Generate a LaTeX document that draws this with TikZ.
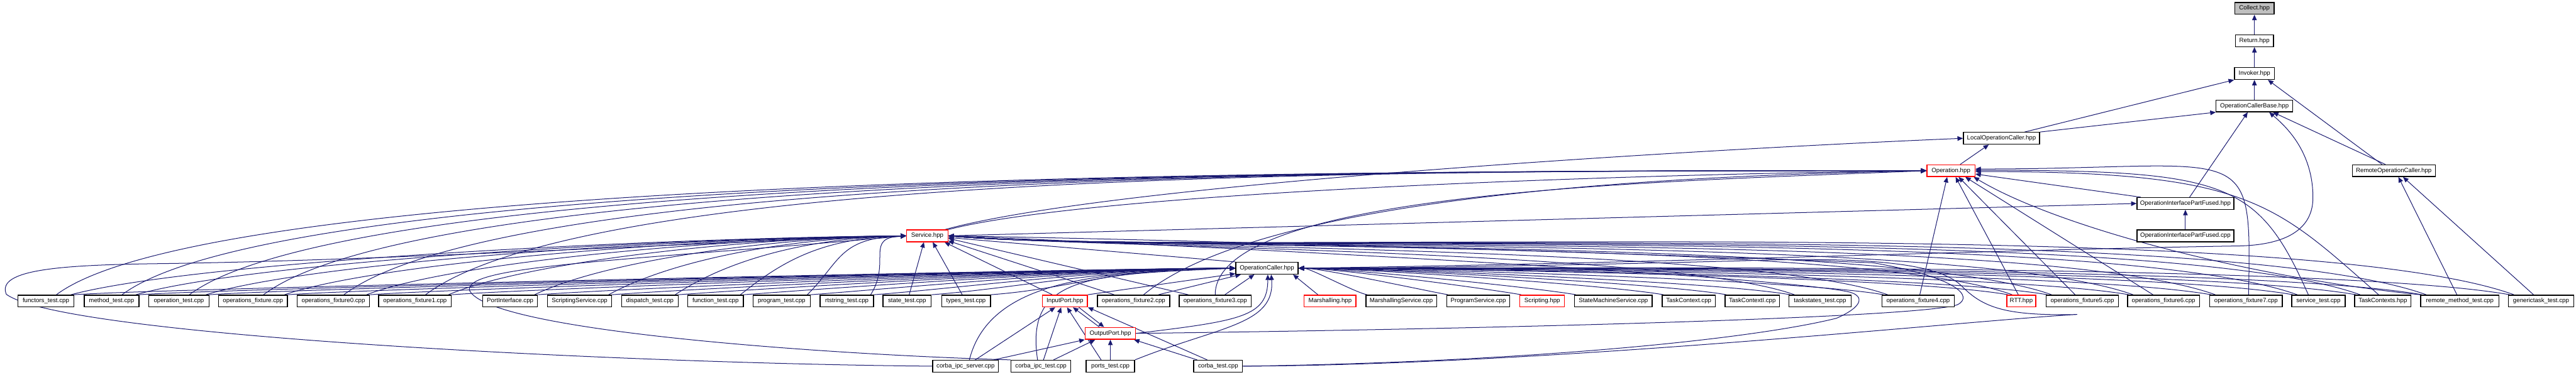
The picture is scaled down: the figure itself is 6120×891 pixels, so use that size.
\documentclass[tikz,border=0pt]{standalone}
\usepackage{fontspec}
\setmainfont{Liberation Sans}
\usetikzlibrary{arrows.meta,calc}
\definecolor{edgec}{HTML}{191970}
\definecolor{grayfill}{HTML}{BFBFBF}
\pgfdeclarelayer{back}
\pgfdeclarelayer{bg}
\pgfsetlayers{back,bg,main}
\tikzset{
  nd/.style={draw=black, line width=2pt, fill=white, minimum height=28pt, inner xsep=3pt, inner ysep=0pt, font=\fontsize{14.5}{16}\selectfont},
  rd/.style={nd, draw=red},
  edg/.style={draw=edgec, line width=1.5pt, -{Triangle[length=13pt,width=11pt]}},
}
\begin{document}
\begin{tikzpicture}[x=1pt,y=1pt]
\begin{pgfonlayer}{back}
\fill[white] (0,0) rectangle (6120,-891);
\end{pgfonlayer}
\useasboundingbox (0,0) rectangle (6120,-891);
% ---------- upper nodes
\node[nd,fill=grayfill,minimum width=93pt] (collect) at (5356,-20) {Collect.hpp};
\node[nd,minimum width=91pt] (ret) at (5356,-97) {Return.hpp};
\node[nd,minimum width=95pt] (invoker) at (5356,-175) {Invoker.hpp};
\node[nd,minimum width=182pt] (ocb) at (5356,-252) {OperationCallerBase.hpp};
\node[nd,minimum width=181pt] (loc) at (4755,-329) {LocalOperationCaller.hpp};
\node[rd,minimum width=114pt] (operation) at (4635,-406) {Operation.hpp};
\node[nd,minimum width=197pt] (remote) at (5687,-406) {RemoteOperationCaller.hpp};
\node[nd,minimum width=230pt] (oipfh) at (5192,-484) {OperationInterfacePartFused.hpp};
\node[nd,minimum width=230pt] (oipfc) at (5192,-561) {OperationInterfacePartFused.cpp};
\node[rd,minimum width=98pt] (service) at (2203,-561) {Service.hpp};
\node[nd,minimum width=148pt] (oc) at (3010,-638) {OperationCaller.hpp};
% ---------- main row
\node[nd,minimum width=133pt] (functors) at (109,-716) {functors\_test.cpp};
\node[nd,minimum width=130pt] (method) at (265,-716) {method\_test.cpp};
\node[nd,minimum width=143pt] (optest) at (425,-716) {operation\_test.cpp};
\node[nd,minimum width=164pt] (opfix) at (601,-716) {operations\_fixture.cpp};
\node[nd,minimum width=172pt] (fx0) at (792,-716) {operations\_fixture0.cpp};
\node[nd,minimum width=173pt] (fx1) at (986,-716) {operations\_fixture1.cpp};
\node[nd,minimum width=130pt] (portif) at (1212,-716) {PortInterface.cpp};
\node[nd,minimum width=152pt] (scriptsvc) at (1377,-716) {ScriptingService.cpp};
\node[nd,minimum width=134pt] (dispatch) at (1544,-716) {dispatch\_test.cpp};
\node[nd,minimum width=132pt] (function) at (1700,-716) {function\_test.cpp};
\node[nd,minimum width=136pt] (program) at (1857,-716) {program\_test.cpp};
\node[nd,minimum width=127pt] (rtstring) at (2012,-716) {rtstring\_test.cpp};
\node[nd,minimum width=115pt] (state) at (2155,-716) {state\_test.cpp};
\node[nd,minimum width=116pt] (types) at (2295,-716) {types\_test.cpp};
\node[rd,minimum width=107pt] (inputport) at (2530,-716) {InputPort.hpp};
\node[nd,minimum width=172pt] (fx2) at (2693,-716) {operations\_fixture2.cpp};
\node[nd,minimum width=171pt] (fx3) at (2887,-716) {operations\_fixture3.cpp};
\node[rd,minimum width=123pt] (marsh) at (3160,-716) {Marshalling.hpp};
\node[nd,minimum width=168pt] (marshsvc) at (3329,-716) {MarshallingService.cpp};
\node[nd,minimum width=150pt] (progsvc) at (3512,-716) {ProgramService.cpp};
\node[rd,minimum width=106pt] (scripting) at (3664,-716) {Scripting.hpp};
\node[nd,minimum width=184pt] (sms) at (3833,-716) {StateMachineService.cpp};
\node[nd,minimum width=126pt] (tc) at (4012,-716) {TaskContext.cpp};
\node[nd,minimum width=129pt] (tci) at (4163,-716) {TaskContextI.cpp};
\node[nd,minimum width=148pt] (taskstates) at (4324,-716) {taskstates\_test.cpp};
\node[nd,minimum width=171pt] (fx4) at (4557,-716) {operations\_fixture4.cpp};
\node[rd,minimum width=69pt] (rtt) at (4802,-716) {RTT.hpp};
\node[nd,minimum width=172pt] (fx5) at (4947,-716) {operations\_fixture5.cpp};
\node[nd,minimum width=171pt] (fx6) at (5140,-716) {operations\_fixture6.cpp};
\node[nd,minimum width=172pt] (fx7) at (5336,-716) {operations\_fixture7.cpp};
\node[nd,minimum width=127pt] (servicetest) at (5508,-716) {service\_test.cpp};
\node[nd,minimum width=134pt] (tcs) at (5661,-716) {TaskContexts.hpp};
\node[nd,minimum width=186pt] (remotetest) at (5844,-716) {remote\_method\_test.cpp};
\node[nd,minimum width=155pt] (generic) at (6037,-716) {generictask\_test.cpp};
% ---------- lower rows
\node[rd,minimum width=120pt] (outputport) at (2638,-793) {OutputPort.hpp};
\node[nd,minimum width=156pt] (cis) at (2294,-871) {corba\_ipc\_server.cpp};
\node[nd,minimum width=142pt] (cit) at (2473,-871) {corba\_ipc\_test.cpp};
\node[nd,minimum width=115pt] (ports) at (2638,-871) {ports\_test.cpp};
\node[nd,minimum width=116pt] (corba) at (2894,-871) {corba\_test.cpp};

\begin{pgfonlayer}{bg}
% top chain
\draw[edg] (ret) -- (collect);
\draw[edg] (invoker) -- (ret);
\draw[edg] (ocb) -- (invoker);
\draw[edg] ($(loc.north)+(55,0)$) -- (invoker.south west);
\draw[edg] (loc.north east) -- (ocb.south west);
\draw[edg] ($(remote.north)+(-28,0)$) -- ($(invoker.south)+(32,0)$);
\draw[edg] ($(remote.north)+(-20,0)$) -- ($(ocb.south)+(44,0)$);
\draw[edg] ($(operation.north)+(22,0)$) -- ($(loc.south)+(-30,0)$);
\draw[edg] ($(service.north east)+(-8,0)$) .. controls +(400,110) and +(-600,-25) .. (loc.west);
\draw[edg] (service.north east) .. controls +(350,90) and +(-700,-8) .. (operation.west);
\draw[edg] ($(oipfh.north)+(10,0)$) -- ($(ocb.south)+(-16,0)$);
\draw[edg] ($(oipfh.north west)+(10,0)$) -- ($(operation.east)+(0,-8)$);
\draw[edg] (oipfc) -- (oipfh);
\draw[edg] (service.east) -- (oipfh.west);
\draw[edg] (oc.east) .. controls (4000,-625) and (4700,-595) .. (5320,-585)
   .. controls (5440,-582) and (5495,-540) .. (5495,-470)
   .. controls (5495,-360) and (5430,-300) .. ($(ocb.south)+(35,0)$);
\draw[edg] ($(remotetest.north)+(-7,0)$) -- ($(remote.south)+(11,0)$);
\draw[edg] ($(generic.north)+(-18,0)$) -- ($(remote.south)+(22,0)$);
% into Operation.hpp
\foreach \nn in {functors,method,optest,opfix,fx0,fx1}
  \draw[edg] ($(\nn.north)+(25,0)$) .. controls +(400,300) and +(-1200,0) .. (operation.west);
\draw[edg] ($(fx2.north)+(24,0)$) .. controls +(300,250) and +(-500,-10) .. (operation.west);
\draw[edg] (fx3.north) .. controls +(0,250) and +(-600,-25) .. (operation.west);
\draw[edg] ($(fx4.north)+(4,0)$) -- ($(operation.south)+(-9,0)$);
\draw[edg] ($(rtt.north)+(-7,0)$) -- ($(operation.south)+(11,0)$);
\draw[edg] ($(fx5.north)+(-17,0)$) -- ($(operation.south)+(18,0)$);
\draw[edg] ($(fx6.north)+(-25,0)$) -- ($(operation.south)+(34,0)$);
\draw[edg] (remotetest.north west) .. controls +(-400,40) and +(200,-120) .. ($(operation.south east)+(-4,0)$);
\draw[edg] ($(fx7.north)+(6,0)$) .. controls +(8,380) and +(650,0) .. ($(operation.east)+(0,4)$);
\draw[edg] ($(servicetest.north)+(-24,0)$) .. controls +(-120,270) and +(600,0) .. ($(operation.east)+(0,1)$);
\draw[edg] ($(tcs.north)+(-10,0)$) .. controls +(-250,220) and +(650,0) .. ($(operation.east)+(0,-2)$);
% into Service.hpp
\foreach \nn/\dd in {functors/600,method/560,optest/520,opfix/470,fx0/420,fx1/380,portif/330,scriptsvc/290,dispatch/240,function/200,program/160,rtstring/100}
  \draw[edg] ($(\nn.north east)+(-8,0)$) .. controls +(\dd*0.5,80) and +(-\dd,-5) .. (service.west);
\draw[edg] ($(state.north)+(5,0)$) -- ($(service.south)+(-8,0)$);
\draw[edg] ($(types.north)+(-9,0)$) -- ($(service.south)+(13,0)$);
\draw[edg] ($(inputport.north)+(-30,0)$) -- ($(service.south)+(41,0)$);
\draw[edg] ($(fx2.north)+(-46,0)$) -- ($(service.south east)+(0,3)$);
\draw[edg] ($(fx3.north)+(-64,0)$) -- ($(service.east)+(0,-6)$);
\draw[edg] (oc.north west) -- ($(service.east)+(0,-4)$);
\foreach \nn/\dd in {taskstates/316,fx4/350,rtt/397,fx5/411,fx6/441,fx7/472,servicetest/502,tcs/526,remotetest/550,generic/585}
  \draw[edg] ($(\nn.north west)+(14,0)$) .. controls +(-0.94*\dd,0.34*\dd) and +(0.996*\dd,-0.087*\dd) .. (service.east);
\draw[edg] (cis.west) .. controls (1500,-865) and (150,-800) .. (15,-700)
   .. controls (-10,-640) and (150,-630) .. (386,-627)
   .. controls (900,-620) and (1700,-575) .. (service.west);
\draw[edg] (cit.north west) .. controls (2000,-845) and (1160,-790) .. (1115,-690)
   .. controls (1105,-630) and (1500,-620) .. (service.west);
\draw[edg] (outputport.east) .. controls (3600,-782) and (4560,-755) .. (4650,-725)
   .. controls (4690,-705) and (4650,-660) .. (4450,-625)
   .. controls (3800,-600) and (2800,-570) .. (service.east);
\draw[edg] (corba.east) .. controls (3600,-862) and (4150,-810) .. (4363,-757)
   .. controls (4425,-730) and (4430,-705) .. (4395,-695)
   .. controls (4250,-660) and (3000,-590) .. (service.east);
% into OperationCaller.hpp
\foreach \nn in {functors,method,optest,opfix,fx0,fx1,portif,scriptsvc,dispatch,function,program,rtstring,state,types}
  \draw[edg] (\nn.north east) .. controls +(200,15) and +(-300,0) .. (oc.west);
\draw[edg] (inputport.north east) -- ($(oc.south west)+(0,2)$);
\draw[edg] ($(fx2.north)+(59,0)$) -- ($(oc.south west)+(13,0)$);
\draw[edg] ($(fx3.north)+(23,0)$) -- ($(oc.south)+(-30,0)$);
\draw[edg] ($(marsh.north)+(-29,0)$) -- ($(oc.south east)+(-13,0)$);
\draw[edg] (outputport.east) .. controls +(250,30) and +(0,-100) .. ($(oc.south)+(2,0)$);
\draw[edg] (ports.north east) .. controls +(200,80) and +(10,-120) .. ($(oc.south)+(10,0)$);
\draw[edg] ($(cis.north)+(9,0)$) .. controls +(50,200) and +(-300,-10) .. (oc.west);
\draw[edg] ($(cit.north)+(-8,0)$) .. controls +(-30,200) and +(-350,-15) .. (oc.west);
\foreach \nn/\dd in {marshsvc/28,progsvc/57,scripting/84,sms/104,tc/137,tci/160,taskstates/184,fx4/219,rtt/265,fx5/280,fx6/310,fx7/341,servicetest/371,tcs/395,remotetest/419,generic/452}
  \draw[edg] ($(\nn.north west)+(4,0)$) .. controls +(-0.985*\dd,0.174*\dd) and +(\dd,0) .. (oc.east);
\draw[edg] (corba.east) .. controls (3700,-868) and (4700,-760) .. (4935,-748)
   .. controls (4760,-752) and (4710,-730) .. (4660,-680)
   .. controls (4600,-620) and (4400,-612) .. (4150,-620)
   .. controls (3700,-632) and (3300,-638) .. (oc.east);
% port cluster
\draw[edg] ($(cis.north)+(23,0)$) -- ($(inputport.south)+(-23,0)$);
\draw[edg] ($(cis.north east)+(-12,0)$) -- (outputport.south west);
\draw[edg] ($(cit.north)+(6,0)$) -- ($(inputport.south)+(-9,0)$);
\draw[edg] ($(cit.north)+(30,0)$) -- ($(outputport.south)+(-36,0)$);
\draw[edg] ($(ports.north)+(-22,0)$) -- ($(inputport.south)+(5,0)$);
\draw[edg] (ports.north) -- (outputport.south);
\draw[edg] ($(corba.north)+(-26,0)$) -- (inputport.south east);
\draw[edg] ($(corba.north)+(-50,0)$) -- ($(outputport.south east)+(-5,0)$);
\draw[edg] ($(outputport.north)+(-26,0)$) -- ($(inputport.south)+(19,0)$);
\draw[edg] ($(inputport.south)+(33,0)$) -- ($(outputport.north)+(-15,0)$);
\end{pgfonlayer}
\end{tikzpicture}
\end{document}
